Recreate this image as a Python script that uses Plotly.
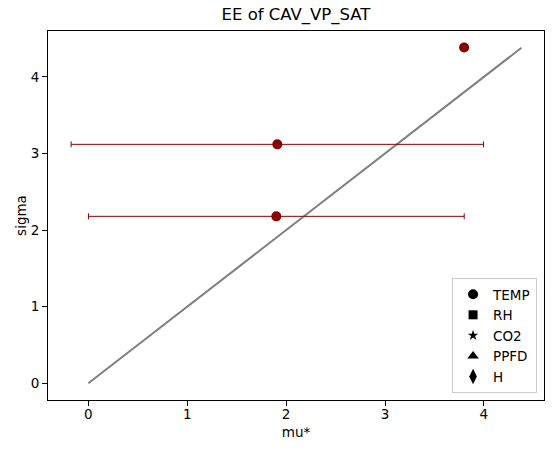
import plotly.graph_objects as go

# Data
mu_star = [1.911, 1.901, 3.80]
sigma = [3.119, 2.179, 4.384]
mu_star_conf = [2.085, 1.90, 0.035]
line_x = [0.0, 4.38]
line_y = [0.0, 4.38]
legend_names = ["TEMP", "RH", "CO2", "PPFD", "H"]
legend_symbols = ["circle", "square", "star", "triangle-up", "diamond-tall"]
legend_sizes = [10, 9, 8, 10, 11]

FONT = "DejaVu Sans"
fig = go.Figure()

fig.add_trace(go.Scatter(
    x=line_x, y=line_y, mode="lines",
    line=dict(color="#808080", width=2), showlegend=False, hoverinfo="skip"))

fig.add_trace(go.Scatter(
    x=mu_star, y=sigma, mode="markers",
    marker=dict(color="#8b0000", size=10, symbol="circle"),
    error_x=dict(type="data", array=mu_star_conf, symmetric=True,
                 color="#8b0000", thickness=1, width=3),
    showlegend=False))

for name, sym, sz in zip(legend_names, legend_symbols, legend_sizes):
    fig.add_trace(go.Scatter(
        x=[None], y=[None], mode="markers", name=name,
        marker=dict(color="black", size=sz, symbol=sym)))

axis_common = dict(
    showgrid=False, zeroline=False, showline=True, mirror=True,
    linecolor="black", linewidth=1, ticks="outside", ticklen=5,
    tickwidth=1, tickcolor="black", automargin=False,
    tickfont=dict(family=FONT, size=13.5, color="black"),
)

fig.update_layout(
    width=554, height=453,
    margin=dict(l=48, r=10, t=31, b=53, autoexpand=False),
    paper_bgcolor="white", plot_bgcolor="white",
    title=dict(text="EE of CAV_VP_SAT", x=0.5, xref="paper",
               y=1 - 14 / 453, yref="container", yanchor="middle",
               automargin=False,
               font=dict(family=FONT, size=16.5, color="black")),
    xaxis=dict(range=[-0.408, 4.608], tickvals=[0, 1, 2, 3, 4],
               ticklabelstandoff=-3,
               title=dict(text="mu*", standoff=6,
                          font=dict(family=FONT, size=13.5, color="black")),
               **axis_common),
    yaxis=dict(range=[-0.219, 4.599], tickvals=[0, 1, 2, 3, 4],
               title=dict(text="sigma", standoff=0,
                          font=dict(family=FONT, size=13.5, color="black")),
               **axis_common),
    legend=dict(x=0.986, y=0.019, xanchor="right", yanchor="bottom",
                bordercolor="#cccccc", borderwidth=1, bgcolor="white",
                font=dict(family=FONT, size=13.5, color="black"),
                itemsizing="trace"),
    showlegend=True,
)

# remove the default 8px page margin so the figure fills the window
fig.write_html("out.html",
               config={"displayModeBar": False},
               post_script="document.body.style.margin='0';document.body.style.overflow='hidden';")
